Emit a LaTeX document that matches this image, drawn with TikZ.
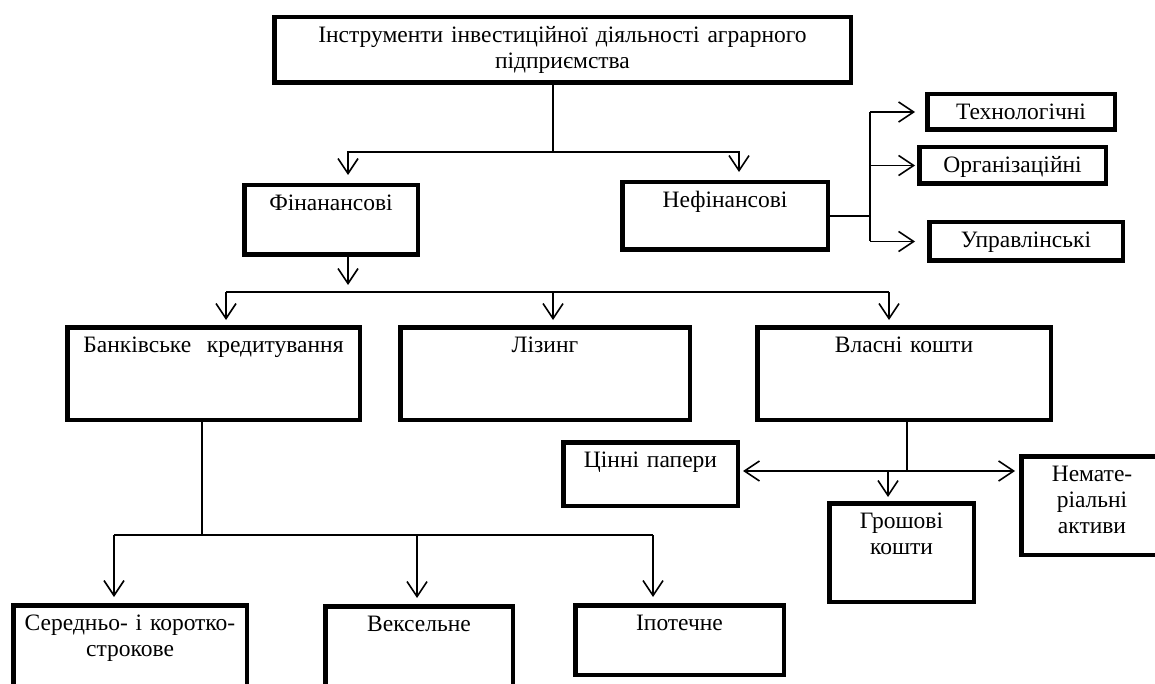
\documentclass[tikz,border=0pt]{standalone}
\usepackage{fontspec}
\setmainfont{Liberation Serif}
\usetikzlibrary{arrows.meta}
\tikzset{
	diagnode/.style = {draw=black, line width=4.5pt, inner sep=0pt, align=center, text height=25pt, font=\fontsize{23.5pt}{26pt}\selectfont},
	conn/.style = {draw, line width=1.6pt},
	line/.style = {conn, -{Straight Barb[length=15pt, width=20pt]}, shorten >=6pt}
}

\begin{document}
\begin{tikzpicture}[x=1pt, y=-1pt]
		\useasboundingbox (0,0) rectangle (1155,684);
		%блоки схеми
		\node (top) [diagnode, text width=576.5pt, text depth=40.5pt] at (562.5,50) {Інструменти інвестиційної діяльності аграрного\\ підприємства};
		\node (fin) [diagnode, text width=173.5pt, text depth=44.5pt] at (331,220) {Фінанансові};
		\node (nefin) [diagnode, text width=205.5pt, text depth=42.5pt] at (725,216) {Нефінансові};
		\node (tech) [diagnode, text width=187.5pt, text depth=10.5pt] at (1021,112) {Технологічні};
		\node (org) [diagnode, text width=186.5pt, text depth=11.5pt] at (1012.5,165.5) {Організаційні};
		\node (upr) [diagnode, text width=193.5pt, text depth=13.5pt] at (1026,241.5) {Управлінські};
		\node (bank) [diagnode, text width=292.5pt, text depth=67.5pt] at (213.5,373.5) {Банківське\ \ кредитування};
		\node (lizing) [diagnode, text width=289.5pt, text depth=67.5pt] at (545,373.5) {Лізинг};
		\node (vlasni) [diagnode, text width=293.5pt, text depth=67.5pt] at (904,373.5) {Власні кошти};
		\node (cinni) [diagnode, text width=174.5pt, text depth=38.5pt] at (650.5,474) {Цінні папери};
		\node (grosh) [diagnode, text width=144.5pt, text depth=73.5pt] at (901.5,552.5) {Грошові\\ кошти};
		\node (nemat) [diagnode, text width=141.5pt, text depth=73.5pt] at (1092,505.5) {Немате-\\ ріальні\\ активи};
		\node (sered) [diagnode, text width=233.5pt, text depth=57.5pt] at (130,646.5) {Середньо- і коротко-\\ строкове};
		\node (veks) [diagnode, text width=187.5pt, text depth=56.5pt] at (419,647) {Вексельне};
		\node (ipot) [diagnode, text width=208.5pt, text depth=44.5pt] at (679.5,640) {Іпотечне};

		%точки входу стрілок
		\coordinate (finin) at ([xshift=17pt]fin.north);
		\coordinate (finout) at ([xshift=17pt]fin.south);
		\coordinate (nefinin) at ([xshift=14pt]nefin.north);
		\coordinate (bankin) at ([xshift=12.5pt]bank.north);
		\coordinate (lizingin) at ([xshift=8pt]lizing.north);
		\coordinate (vlasniin) at ([xshift=-15pt]vlasni.north);
		\coordinate (seredin) at ([xshift=-16pt]sered.north);
		\coordinate (veksin) at ([xshift=-2pt]veks.north);
		\coordinate (ipotin) at ([xshift=-26.5pt]ipot.north);
		\coordinate (groshin) at ([xshift=-13.5pt]grosh.north);
		\coordinate (j1) at (553,152);
		\coordinate (j2) at (870,216);
		\coordinate (j3) at (226,292);
		\coordinate (j4) at (202,535);
		\coordinate (j5) at (907,471);

		%з'єднання
		\path [conn](top.south -| j1) -- (j1);
		\path [line, shorten >=8pt](j1) -| (finin);
		\path [line, shorten >=8pt](j1) -| (nefinin);
		\path [conn](nefin.east) -- (j2);
		\path [conn](tech.west -| j2) -- (upr.west -| j2);
		\path [line, shorten >=10pt](tech.west -| j2) -- (tech.west);
		\path [line, shorten >=2pt](org.west -| j2) -- (org.west);
		\path [line, shorten >=12pt](upr.west -| j2) -- (upr.west);
		\path [line, shorten >=7pt](finout) -- (finout |- j3);
		\path [conn](bankin |- j3) -- (vlasniin |- j3);
		\path [line, shorten >=5pt](bankin |- j3) -- (bankin);
		\path [line, shorten >=5pt](lizingin |- j3) -- (lizingin);
		\path [line, shorten >=5pt](vlasniin |- j3) -- (vlasniin);
		\path [conn](bank.south -| j4) -- (j4);
		\path [conn](j4 -| seredin) -- (j4 -| ipotin);
		\path [line](j4 -| seredin) -- (seredin);
		\path [line](j4 -| veksin) -- (veksin);
		\path [line](j4 -| ipotin) -- (ipotin);
		\path [conn](vlasni.south -| j5) -- (j5);
		\path [line, shorten >=3pt](j5) -- (j5 -| cinni.east);
		\path [line, shorten >=4pt](j5) -- (j5 -| nemat.west);
		\path [line, shorten >=4pt](j5 -| groshin) -- (groshin);
		\end{tikzpicture}
\end{document}
